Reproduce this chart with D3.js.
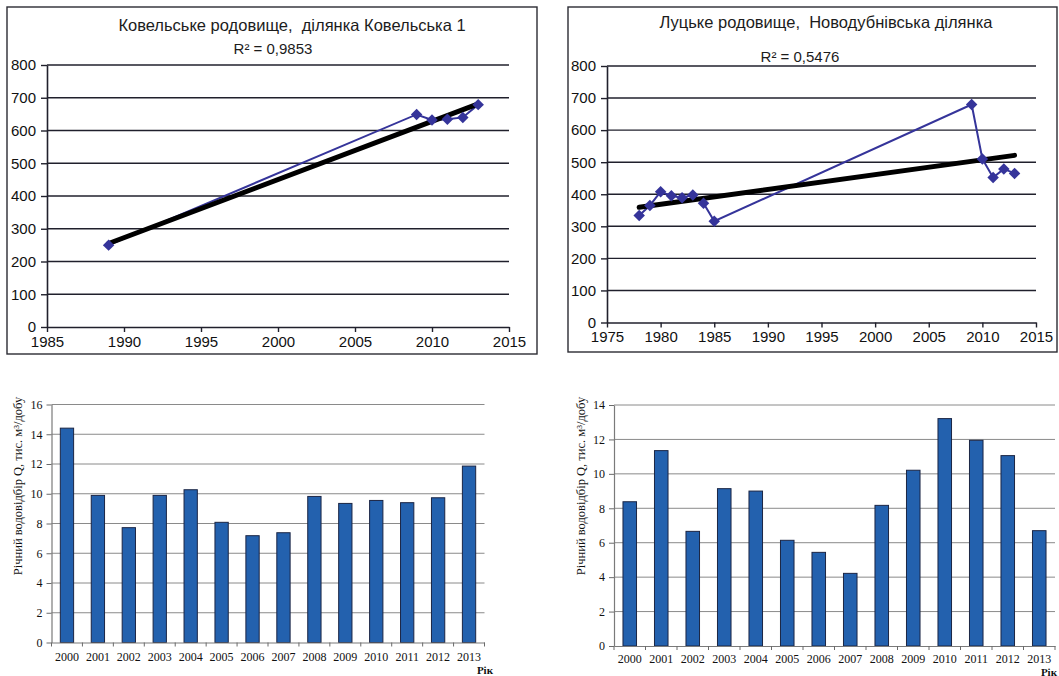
<!DOCTYPE html>
<html>
<head>
<meta charset="utf-8">
<script src="https://cdn.jsdelivr.net/npm/d3@7"></script>
<style>
  html, body { margin: 0; padding: 0; background: #fff; }
  svg { display: block; }
  text { white-space: pre; }
</style>
</head>
<body>
<svg id="fig" width="1059" height="676"></svg>
<script>
// Ковельське родовище, ділянка Ковельська 1: роки та водовідбір
const kovelYears = [1989, 2009, 2010, 2011, 2012, 2013];
const kovelFlow = [250, 649, 632, 634, 640, 679];
const kovelTitle = "Ковельське родовище,  ділянка Ковельська 1";
const kovelR2 = "R² = 0,9853";
const kovelXTicks = [1985, 1990, 1995, 2000, 2005, 2010, 2015];

// Луцьке родовище, Новодубнівська ділянка
const lutskYears = [1978, 1979, 1980, 1981, 1982, 1983, 1984, 1985, 2009, 2010, 2011, 2012, 2013];
const lutskFlow = [334, 365, 408, 395, 389, 398, 372, 316, 680, 510, 452, 479, 465];
const lutskTitle = "Луцьке родовище,  Новодубнівська ділянка";
const lutskR2 = "R² = 0,5476";
const lutskXTicks = [1975, 1980, 1985, 1990, 1995, 2000, 2005, 2010, 2015];

const lineYTicks = [0, 100, 200, 300, 400, 500, 600, 700, 800];

// Річний водовідбір по роках (дві гістограми)
const barYears = ["2000", "2001", "2002", "2003", "2004", "2005", "2006",
                  "2007", "2008", "2009", "2010", "2011", "2012", "2013"];
const barsLeft = [14.41, 9.89, 7.72, 9.89, 10.27, 8.08, 7.18, 7.38, 9.82, 9.35, 9.55, 9.40, 9.73, 11.86];
const barsRight = [8.38, 11.35, 6.66, 9.14, 9.00, 6.14, 5.44, 4.22, 8.17, 10.21, 13.21, 11.95, 11.06, 6.70];
const barsLeftTicks = [0, 2, 4, 6, 8, 10, 12, 14, 16];
const barsRightTicks = [0, 2, 4, 6, 8, 10, 12, 14];
const barYTitle = "Річний водовідбір Q, тис. м³/добу";
const barXTitle = "Рік";

const svg = d3.select("#fig");

// least-squares line through the points
function linearFit(xs, ys) {
  const mx = d3.mean(xs), my = d3.mean(ys);
  let sxy = 0, sxx = 0;
  xs.forEach((x, i) => { sxy += (x - mx) * (ys[i] - my); sxx += (x - mx) * (x - mx); });
  const b = sxy / sxx;
  return x => my + b * (x - mx);
}

function lineChart(cfg) {
  const g = svg.append("g");
  // outer frame
  g.append("rect")
    .attr("x", cfg.frame[0]).attr("y", cfg.frame[1])
    .attr("width", cfg.frame[2] - cfg.frame[0]).attr("height", cfg.frame[3] - cfg.frame[1])
    .attr("fill", "none").attr("stroke", "#2b2b33").attr("stroke-width", 1.4);

  const x = d3.scaleLinear().domain(cfg.xDomain).range([cfg.left, cfg.right]);
  const y = d3.scaleLinear().domain([0, 800]).range([cfg.bottom, cfg.top]);

  // horizontal grid
  g.append("g").selectAll("line").data(lineYTicks.filter(v => v > 0)).join("line")
    .attr("x1", cfg.left).attr("x2", cfg.right)
    .attr("y1", d => y(d)).attr("y2", d => y(d))
    .attr("stroke", "#20202c").attr("stroke-width", 1.4);

  const yAxis = g.append("g").attr("transform", `translate(${cfg.left},0)`)
    .call(d3.axisLeft(y).tickValues(lineYTicks).tickSize(6).tickPadding(5).tickSizeOuter(0));
  const xAxis = g.append("g").attr("transform", `translate(0,${cfg.bottom})`)
    .call(d3.axisBottom(x).tickValues(cfg.xTicks).tickFormat(d3.format("d")).tickSize(5).tickPadding(4).tickSizeOuter(0));
  [yAxis, xAxis].forEach(a => {
    a.select(".domain").attr("stroke", "#20202c").attr("stroke-width", 1.6);
    a.selectAll(".tick line").attr("stroke", "#20202c").attr("stroke-width", 1.4);
    a.selectAll("text").attr("fill", "#111")
      .style("font-family", "'Liberation Sans', Arial, sans-serif").style("font-size", "15px");
  });

  // data series
  const pts = cfg.years.map((yr, i) => [yr, cfg.values[i]]);
  g.append("path")
    .datum(pts)
    .attr("d", d3.line().x(d => x(d[0])).y(d => y(d[1])))
    .attr("fill", "none").attr("stroke", "#35349a").attr("stroke-width", 2);

  // linear trend
  const fit = linearFit(cfg.years, cfg.values);
  const x0 = d3.min(cfg.years), x1 = d3.max(cfg.years);
  g.append("line")
    .attr("x1", x(x0)).attr("y1", y(fit(x0)))
    .attr("x2", x(x1)).attr("y2", y(fit(x1)))
    .attr("stroke", "#000").attr("stroke-width", 5).attr("stroke-linecap", "round");

  g.append("g").selectAll("path").data(pts).join("path")
    .attr("d", d3.symbol(d3.symbolSquare, 66))
    .attr("transform", d => `translate(${x(d[0])},${y(d[1])}) rotate(45)`)
    .attr("fill", "#35349a");

  g.append("text").attr("x", cfg.titleX).attr("y", cfg.titleY)
    .attr("text-anchor", "middle").attr("fill", "#1c1c1c")
    .attr("xml:space", "preserve")
    .style("font-family", "'Liberation Sans', Arial, sans-serif").style("font-size", "16.5px")
    .text(cfg.title);
  g.append("text").attr("x", cfg.r2X).attr("y", cfg.r2Y)
    .attr("text-anchor", "middle").attr("fill", "#1c1c1c")
    .style("font-family", "'Liberation Sans', Arial, sans-serif").style("font-size", "15px")
    .text(cfg.r2);
}

lineChart({
  frame: [7, 7, 537, 354],
  left: 47, right: 509, top: 65, bottom: 327,
  xDomain: [1985, 2015], xTicks: kovelXTicks,
  years: kovelYears, values: kovelFlow,
  title: kovelTitle, titleX: 292, titleY: 31,
  r2: kovelR2, r2X: 273, r2Y: 54
});

lineChart({
  frame: [568, 7, 1057, 352],
  left: 607, right: 1036, top: 66, bottom: 322.5,
  xDomain: [1975, 2015], xTicks: lutskXTicks,
  years: lutskYears, values: lutskFlow,
  title: lutskTitle, titleX: 826, titleY: 28,
  r2: lutskR2, r2X: 800, r2Y: 62
});

function barChart(cfg) {
  const g = svg.append("g");
  const x = d3.scaleBand().domain(barYears).range([cfg.left, cfg.right])
    .paddingInner(0.57).paddingOuter(0.285);
  const y = d3.scaleLinear().domain([0, cfg.max]).range([cfg.bottom, cfg.top]);
  const serif = "'Liberation Serif', 'Times New Roman', serif";

  g.append("g").selectAll("line").data(cfg.ticks.filter(v => v > 0)).join("line")
    .attr("x1", cfg.left).attr("x2", cfg.right)
    .attr("y1", d => y(d)).attr("y2", d => y(d))
    .attr("stroke", "#8a8a8a").attr("stroke-width", 1);

  g.append("g").selectAll("rect").data(cfg.values).join("rect")
    .attr("x", (d, i) => x(barYears[i]))
    .attr("y", d => y(d))
    .attr("width", x.bandwidth())
    .attr("height", d => y(0) - y(d))
    .attr("fill", "#2361ae").attr("stroke", "#1b2544").attr("stroke-width", 1);

  const yAxis = g.append("g").attr("transform", `translate(${cfg.left},0)`)
    .call(d3.axisLeft(y).tickValues(cfg.ticks).tickSize(5).tickPadding(4).tickSizeOuter(0));
  const xAxis = g.append("g").attr("transform", `translate(0,${cfg.bottom})`)
    .call(d3.axisBottom(x).tickSize(0).tickPadding(cfg.labelPad));
  // category separators below the axis
  const step = x.step();
  g.append("g").selectAll("line").data(d3.range(barYears.length + 1)).join("line")
    .attr("x1", i => cfg.left + i * step).attr("x2", i => cfg.left + i * step)
    .attr("y1", cfg.bottom).attr("y2", cfg.bottom + 4)
    .attr("stroke", "#6a6a6a").attr("stroke-width", 1);
  [yAxis, xAxis].forEach(a => {
    a.select(".domain").attr("stroke", "#7a7a7a").attr("stroke-width", 1.2);
    a.selectAll(".tick line").attr("stroke", "#6a6a6a");
    a.selectAll("text").attr("fill", "#111")
      .style("font-family", serif).style("font-size", "12px");
  });

  g.append("text")
    .attr("transform", `translate(${cfg.yTitleX},${cfg.yTitleY}) rotate(-90)`)
    .attr("text-anchor", "middle").attr("fill", "#111")
    .style("font-family", serif).style("font-size", "12.5px")
    .text(barYTitle);
  g.append("text").attr("x", cfg.xTitleX).attr("y", cfg.xTitleY)
    .attr("text-anchor", "end").attr("fill", "#111")
    .style("font-family", serif).style("font-size", "11px").style("font-weight", "bold")
    .text(barXTitle);
}

barChart({
  left: 51.5, right: 484.5, top: 404.5, bottom: 642.5, labelPad: 10,
  max: 16, ticks: barsLeftTicks, values: barsLeft,
  yTitleX: 22, yTitleY: 486, xTitleX: 493, xTitleY: 674
});

barChart({
  left: 614, right: 1055, top: 405, bottom: 646, labelPad: 8,
  max: 14, ticks: barsRightTicks, values: barsRight,
  yTitleX: 585, yTitleY: 486, xTitleX: 1057, xTitleY: 675.5
});
</script>
</body>
</html>
